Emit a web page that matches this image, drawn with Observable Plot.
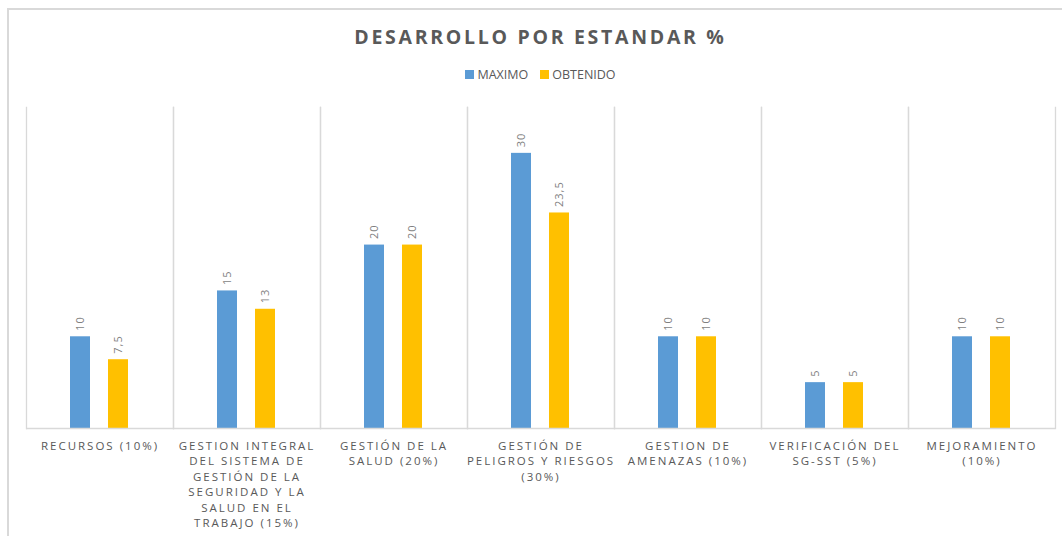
<!DOCTYPE html>
<html>
<head>
<meta charset="utf-8">
<script src="https://cdn.jsdelivr.net/npm/d3@7"></script>
<script src="https://cdn.jsdelivr.net/npm/@observablehq/plot@0.6"></script>
<style>
  body { margin: 0; background: #fff; width: 1062px; height: 536px; overflow: hidden; position: relative; font-family: "Open Sans", sans-serif; }
  #border { position: absolute; left: 7px; top: 8px; width: 1100px; height: 600px; border-left: 2px solid #d9d9d9; border-top: 2px solid #d9d9d9; box-sizing: border-box; }
  #title { position: absolute; left: 25px; width: 1031px; top: 23px; text-align: center; font: bold 19.5px "Open Sans", sans-serif; letter-spacing: 2.7px; color: #595959; line-height: 28px; }
  #legend { position: absolute; left: 25px; width: 1031px; top: 66px; text-align: center; font: 12.5px "Open Sans", sans-serif; color: #595959; line-height: 18px; }
  .item { display: inline-block; margin: 0 6px; }
  .sw { display: inline-block; width: 9px; height: 9px; margin-right: 3px; vertical-align: 0px; }
  #chart { position: absolute; left: 0; top: 95px; }
  #chart g[aria-label="fx-axis tick label"] text { letter-spacing: 2px; }
  #chart g[aria-label="text"] text { letter-spacing: 1px; }
</style>
</head>
<body>
<div id="border"></div>
<div id="title">DESARROLLO POR ESTANDAR %</div>
<div id="legend"></div>
<div id="chart"></div>
<script>
const categories = [
  "RECURSOS (10%)",
  "GESTION INTEGRAL DEL SISTEMA DE GESTIÓN DE LA SEGURIDAD Y LA SALUD EN EL TRABAJO (15%)",
  "GESTIÓN DE LA SALUD (20%)",
  "GESTIÓN DE PELIGROS Y RIESGOS (30%)",
  "GESTION DE AMENAZAS (10%)",
  "VERIFICACIÓN DEL SG-SST (5%)",
  "MEJORAMIENTO (10%)"
];
const tickLabels = [
  "RECURSOS (10%)",
  "GESTION INTEGRAL\nDEL SISTEMA DE\nGESTIÓN DE LA\nSEGURIDAD Y LA\nSALUD EN EL\nTRABAJO (15%)",
  "GESTIÓN DE LA\nSALUD (20%)",
  "GESTIÓN DE\nPELIGROS Y RIESGOS\n(30%)",
  "GESTION DE\nAMENAZAS (10%)",
  "VERIFICACIÓN DEL\nSG-SST (5%)",
  "MEJORAMIENTO\n(10%)"
];
const series = ["MAXIMO", "OBTENIDO"];
const maximo = [10, 15, 20, 30, 10, 5, 10];
const obtenido = [7.5, 13, 20, 23.5, 10, 5, 10];
const colors = ["#5B9BD5", "#FFC000"];

const data = [];
categories.forEach((c, i) => {
  data.push({cat: c, serie: series[0], value: maximo[i]});
  data.push({cat: c, serie: series[1], value: obtenido[i]});
});

const fmt = v => String(v).replace(".", ",");

// legend
const legend = document.getElementById("legend");
series.forEach((s, i) => {
  const it = document.createElement("span");
  it.className = "item";
  it.innerHTML = `<span class="sw" style="background:${colors[i]}"></span>${s}`;
  legend.appendChild(it);
});

const chart = Plot.plot({
  width: 1062,
  height: 438,
  marginLeft: 25,
  marginRight: 6,
  marginTop: 12,
  marginBottom: 105,
  style: {fontFamily: "Open Sans", color: "#595959", background: "transparent", overflow: "visible"},
  fx: {domain: categories, padding: 0, label: null},
  x: {domain: series, paddingInner: 0.4615, paddingOuter: 1.12, axis: null},
  y: {domain: [0, 35], axis: null},
  color: {domain: series, range: colors},
  marks: [
    Plot.frame({anchor: "left", stroke: "#d9d9d9", strokeWidth: 1.3}),
    Plot.frame({anchor: "right", stroke: "#d9d9d9", strokeWidth: 1.3}),
    Plot.barY(data, {fx: "cat", x: "serie", y: "value", fill: "serie"}),
    Plot.text(data, {fx: "cat", x: "serie", y: "value", text: d => fmt(d.value), rotate: -90, textAnchor: "start", dy: -6, fill: "#7f7f7f", fontSize: 11}),
    Plot.ruleY([0], {stroke: "#d9d9d9", strokeWidth: 1.5}),
    Plot.axisFx({anchor: "bottom", tickSize: 0, tickPadding: 10, label: null, fontSize: 11.5, lineHeight: 1.35, fill: "#595959",
      tickFormat: d => tickLabels[categories.indexOf(d)]})
  ]
});
document.getElementById("chart").appendChild(chart);
</script>
</body>
</html>
